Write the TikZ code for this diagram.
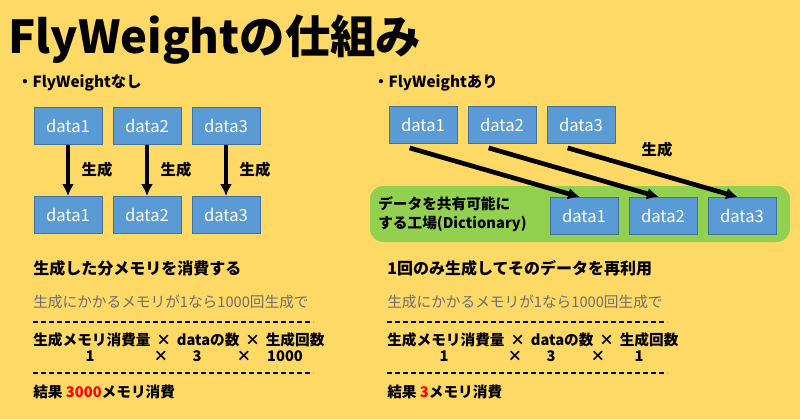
\documentclass[tikz,border=0pt]{standalone}
\usepackage{fontspec}
\setmainfont{Noto Sans CJK JP}
\usetikzlibrary{arrows.meta}
\definecolor{bgy}{RGB}{255,217,102}
\definecolor{bx}{RGB}{91,155,213}
\definecolor{bxd}{RGB}{65,113,156}
\definecolor{gr}{RGB}{146,208,80}
\definecolor{gt}{RGB}{110,110,110}
\begin{document}
\begin{tikzpicture}[x=0.75pt,y=-0.75pt,
 dbox/.style={draw=bxd,fill=bx,text=white,minimum width=51pt,minimum height=28pt,inner sep=0pt,font=\fontsize{12.5}{12}\selectfont},
 arr/.style={line width=3.5pt,-{Latex[length=9pt,width=9pt]}},
 lbl/.style={font=\bfseries\fontsize{12}{12}\selectfont,anchor=west,inner sep=0pt},
 sml/.style={font=\bfseries\fontsize{11}{12}\selectfont},
 gry/.style={font=\fontsize{11}{12}\selectfont,text=gt,anchor=west,inner sep=0pt},
 dsh/.style={dash pattern=on 4pt off 2pt,line width=0.8pt}]
\fill[bgy] (0,0) rectangle (800,419);
\node[anchor=west,inner sep=0pt,font=\bfseries\fontsize{34}{36}\selectfont] (title) at (8,40) {FlyWeightの仕組み};
\node[anchor=west,inner sep=0pt,font=\bfseries\fontsize{11.5}{12}\selectfont] (h1) at (17,83) {・FlyWeightなし};
\node[anchor=west,inner sep=0pt,font=\bfseries\fontsize{11.5}{12}\selectfont] (h2) at (373,83) {・FlyWeightあり};
% left
\foreach \i/\x in {1/68,2/147,3/226}{
 \node[dbox] (lt\i) at (\x,126) {data\i};
 \node[dbox] (lb\i) at (\x,215) {data\i};
 \draw[arr] (lt\i) -- (lb\i);
 \node[font=\bfseries\fontsize{11.5}{12}\selectfont] (g\i) at (\x+29,170) {生成};
}
% right
\fill[gr,rounded corners=10pt] (370,186) rectangle (790,242);
\node[anchor=west,align=left,inner sep=0pt,font=\bfseries\fontsize{11}{14}\selectfont] (fac) at (378,214) {データを共有可能に\\する工場(Dictionary)};
\foreach \i/\x/\y in {1/423/584,2/502/663,3/581/742}{
 \node[dbox] (rt\i) at (\x,125) {data\i};
 \node[dbox] (rb\i) at (\y,216) {data\i};
 \draw[arr] ([xshift=-10pt,yshift=-3pt]rt\i.south) -- ([xshift=-3pt]rb\i.north);
}
\node[font=\bfseries\fontsize{11.5}{12}\selectfont] (gr) at (657,150) {生成};
% texts
\node[lbl] (l1) at (33,268) {生成した分メモリを消費する};
\node[lbl] (r1) at (387,268) {1回のみ生成してそのデータを再利用};
\foreach \x/\n/\r in {33/1000/3000,387/1/3}{
 \node[gry] at (\x,302) {生成にかかるメモリが1なら1000回生成で};
 \draw[dsh] (\x,322) -- (\x+280,322);
 \node[lbl,sml] at (\x,340) {生成メモリ消費量 \,×\, dataの数 \,×\, 生成回数};
 \node[sml] at (\x+57,356) {1};
 \node[sml] at (\x+128,356) {×};
 \node[sml] at (\x+164,356) {3};
 \node[sml] at (\x+211,356) {×};
 \node[sml] at (\x+252,356) {\n};
 \draw[dsh] (\x,373) -- (\x+280,373);
 \node[lbl,sml] at (\x,392) {結果 \textcolor{red}{\r}メモリ消費};
}
\end{tikzpicture}
\end{document}
